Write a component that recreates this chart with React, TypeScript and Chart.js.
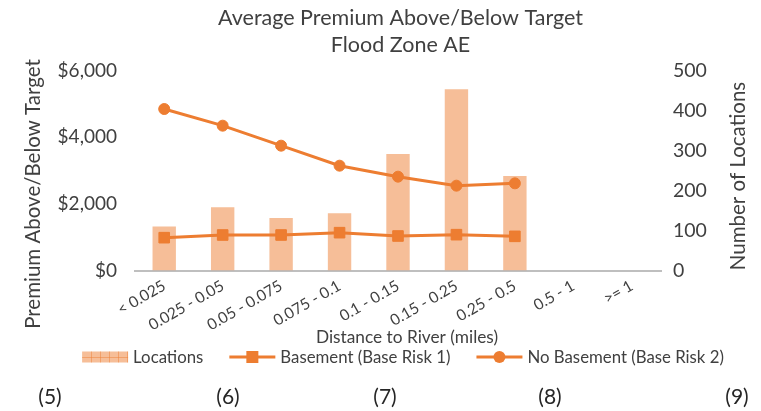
import React, { useEffect, useRef } from 'react';
import { Chart, registerables } from 'chart.js';

Chart.register(...registerables);

// ---------- data ----------
const categories = ['< 0.025', '0.025 - 0.05', '0.05 - 0.075', '0.075 - 0.1', '0.1 - 0.15', '0.15 - 0.25', '0.25 - 0.5', '0.5 - 1', '>= 1'];
const locations = [110, 158, 131, 143, 291, 453, 236, null, null];
const basement = [985, 1065, 1065, 1135, 1035, 1075, 1025, null, null];
const noBasement = [4845, 4345, 3745, 3145, 2815, 2545, 2615, null, null];
const seriesLabels = ['Locations', 'Basement (Base Risk 1)', 'No Basement (Base Risk 2)'];
const titleLines = ['Average Premium Above/Below Target', 'Flood Zone AE'];
const leftAxisTitle = 'Premium Above/Below Target';
const rightAxisTitle = 'Number of Locations';
const xAxisTitle = 'Distance to River (miles)';
const footnotes = ['(5)', '(6)', '(7)', '(8)', '(9)'];

// ---------- styles ----------
const FONT = 'Lato, "Open Sans", sans-serif';
const TEXT = '#404040';
const ORANGE = '#ED7D31';
const BAR_FILL = 'rgba(237,125,49,0.5)';
const footnoteX = [50, 228, 385, 550, 737];

const overlayPlugin = {
  id: 'overlayText',
  afterDraw(chart: any) {
    const ctx = chart.ctx as CanvasRenderingContext2D;
    const area = chart.chartArea;
    ctx.save();
    ctx.fillStyle = TEXT;
    ctx.textAlign = 'center';
    ctx.textBaseline = 'middle';

    // left axis title
    ctx.font = `20.5px ${FONT}`;
    ctx.save();
    ctx.translate(33, 194);
    ctx.rotate(-Math.PI / 2);
    ctx.fillText(leftAxisTitle, 0, 0);
    ctx.restore();

    // right axis title (reads bottom to top)
    ctx.save();
    ctx.translate(738, 176);
    ctx.rotate(-Math.PI / 2);
    ctx.fillText(rightAxisTitle, 0, 0);
    ctx.restore();

    // x axis title
    ctx.font = `17.3px ${FONT}`;
    ctx.fillText(xAxisTitle, (area.left + area.right) / 2 + 9, 337);

    // legend
    ctx.font = `16.8px ${FONT}`;
    const boxW = 46;
    const textGap = 5;
    const itemGap = 26;
    const widths = seriesLabels.map((t) => boxW + textGap + ctx.measureText(t).width);
    const total = widths.reduce((a, b) => a + b, 0) + itemGap * (widths.length - 1);
    let x = 403 - total / 2;
    const y = 357;
    ctx.textAlign = 'left';
    seriesLabels.forEach((label, i) => {
      if (i === 0) {
        ctx.fillStyle = BAR_FILL;
        ctx.fillRect(x, y - 5.5, boxW, 11);
        ctx.strokeStyle = 'rgba(237,125,49,0.45)';
        ctx.lineWidth = 1;
        ctx.beginPath();
        for (let k = 9; k < boxW; k += 9) {
          ctx.moveTo(Math.round(x + k) + 0.5, y - 5.5);
          ctx.lineTo(Math.round(x + k) + 0.5, y + 5.5);
        }
        ctx.moveTo(x, Math.round(y) + 0.5);
        ctx.lineTo(x + boxW, Math.round(y) + 0.5);
        ctx.stroke();
      } else {
        ctx.strokeStyle = ORANGE;
        ctx.lineWidth = 3;
        ctx.beginPath();
        ctx.moveTo(x, y);
        ctx.lineTo(x + boxW, y);
        ctx.stroke();
        ctx.fillStyle = ORANGE;
        if (i === 1) {
          ctx.fillRect(x + boxW / 2 - 6, y - 6, 12, 12);
        } else {
          ctx.beginPath();
          ctx.arc(x + boxW / 2, y, 6, 0, Math.PI * 2);
          ctx.fill();
        }
      }
      ctx.fillStyle = TEXT;
      ctx.fillText(label, x + boxW + textGap, y + 1);
      x += widths[i] + itemGap;
    });
    ctx.restore();
  },
};

export default function App() {
  const canvasRef = useRef<HTMLCanvasElement | null>(null);

  useEffect(() => {
    if (!canvasRef.current) return;
    const chart = new Chart(canvasRef.current, {
      type: 'bar',
      data: {
        labels: categories,
        datasets: [
          {
            type: 'bar',
            label: seriesLabels[0],
            data: locations,
            yAxisID: 'y1',
            backgroundColor: BAR_FILL,
            borderWidth: 0,
            barPercentage: 0.4,
            categoryPercentage: 1,
            order: 2,
          },
          {
            type: 'line',
            label: seriesLabels[1],
            data: basement,
            yAxisID: 'y',
            borderColor: ORANGE,
            backgroundColor: ORANGE,
            borderWidth: 3,
            pointStyle: 'rect',
            pointRadius: 7.5,
            pointBorderWidth: 1,
            pointBackgroundColor: ORANGE,
            pointBorderColor: ORANGE,
            order: 1,
          },
          {
            type: 'line',
            label: seriesLabels[2],
            data: noBasement,
            yAxisID: 'y',
            borderColor: ORANGE,
            backgroundColor: ORANGE,
            borderWidth: 3,
            pointStyle: 'circle',
            pointRadius: 5.5,
            pointBorderWidth: 1,
            pointBackgroundColor: ORANGE,
            pointBorderColor: ORANGE,
            order: 0,
          },
        ],
      },
      options: {
        responsive: false,
        animation: false,
        layout: { padding: { top: 0, left: 40, right: 0, bottom: 80.5 } },
        plugins: {
          legend: { display: false },
          tooltip: { enabled: false },
          title: {
            display: true,
            text: titleLines,
            color: TEXT,
            font: { family: FONT, size: 21.5, weight: 'normal', lineHeight: 1.27 },
            padding: { top: 4, bottom: 11.9 },
          },
        },
        scales: {
          x: {
            type: 'category',
            grid: { display: false, drawTicks: false },
            border: { display: true, color: '#BFBFBF', width: 2 },
            ticks: {
              color: TEXT,
              font: { family: FONT, size: 15.5 },
              minRotation: 30,
              maxRotation: 30,
              padding: 6,
              autoSkip: false,
            },
            afterFit: (s: any) => { s.height = 60; },
          },
          y: {
            type: 'linear',
            position: 'left',
            min: 0,
            max: 6000,
            grid: { display: false, drawTicks: false },
            border: { display: false },
            ticks: {
              stepSize: 2000,
              color: TEXT,
              font: { family: FONT, size: 19 },
              padding: 18,
              callback: (v: any) => '$' + Number(v).toLocaleString('en-US'),
            },
            afterFit: (s: any) => { s.width = 95; },
          },
          y1: {
            type: 'linear',
            position: 'right',
            min: 0,
            max: 500,
            grid: { display: false, drawTicks: false },
            border: { display: false },
            ticks: {
              stepSize: 100,
              color: TEXT,
              font: { family: FONT, size: 19.5 },
              padding: 12,
            },
            afterFit: (s: any) => { s.width = 100; },
          },
        },
      },
      plugins: [overlayPlugin],
    });
    return () => chart.destroy();
  }, []);

  return (
    <div style={{ position: 'absolute', left: 0, top: 0, width: 761, height: 411, background: '#fff', overflow: 'hidden' }}>
      <canvas ref={canvasRef} width={761} height={411} style={{ display: 'block' }} />
      {footnotes.map((t, i) => (
        <span
          key={t}
          style={{
            position: 'absolute',
            left: footnoteX[i],
            top: 383,
            transform: 'translateX(-50%)',
            fontFamily: FONT,
            fontSize: 21,
            lineHeight: '26px',
            color: '#262626',
            whiteSpace: 'nowrap',
          }}
        >
          {t}
        </span>
      ))}
    </div>
  );
}
